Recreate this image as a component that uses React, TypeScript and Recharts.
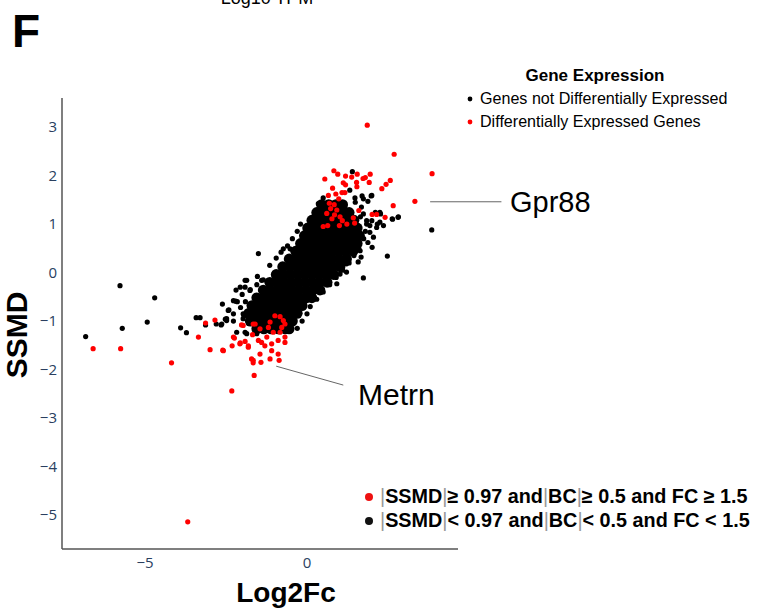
import { ReferenceLine, Scatter, ScatterChart, XAxis, YAxis } from "recharts";

// Log2Fc (x), SSMD (y)

// genes not differentially expressed, sparse / edge points
const notDeSparse: [number, number][] = [
    [-5.77, -0.27], [-4.70, -0.52], [-4.93, -1.02], [-5.70, -1.15], [-6.83, -1.32], [-3.90, -1.14], [-3.72, -1.24],
    [-3.42, -0.93], [-3.30, -0.93], [-3.13, -1.08], [-2.80, -1.06], [-2.61, -0.65], [-2.65, -1.08], [-2.52, -0.96],
    [-2.43, -0.78], [-2.27, -1.00], [-2.20, -0.59], [-2.06, -0.30], [-1.91, -0.16],
    [3.85, 0.88], [2.81, 1.14], [2.64, 1.10], [1.40, 2.08], [1.32, 1.70], [1.70, 1.58], [1.98, 1.58], [1.88, 1.47],
    [1.48, 1.54], [1.49, 1.45], [0.50, 1.54], [0.67, 1.44], [1.84, 1.07], [2.00, 1.07], [2.11, 1.24], [2.27, 1.21],
    [2.17, 1.00], [1.94, 0.97], [1.74, 1.21], [1.68, 1.35], [0.42, 1.29], [0.35, 1.42],
    [2.48, 0.34], [1.74, -0.11], [2.01, 0.52], [1.88, 0.62], [1.58, 0.22], [1.67, 0.32], [2.82, 1.15], [2.63, 1.11],
    [2.25, 1.04], [2.15, 0.93], [1.94, 0.83], [1.84, 1.00], [1.22, 0.01], [0.92, -0.23], [-1.50, 0.39], [-0.73, 0.49],
    [-0.52, 0.49], [2.0, 1.59], [1.74, 1.52], [2.25, 1.24], [2.36, 0.97], [2.05, 0.73], [1.64, 0.45], [1.22, 0.18], [1.02, -0.03],
    [-2.41, -0.77], [-2.27, -0.58], [-2.15, -0.60], [-2.19, -0.36], [-1.86, -0.16], [-1.91, -0.30], [-1.76, -0.37],
    [-1.53, -0.08], [-1.40, -0.16], [-2.48, -0.95], [-1.97, -0.95], [-1.91, -1.23],
    [-1.55, -1.26], [-1.35, -1.06], [-1.86, -1.26], [-2.17, -1.23], [-2.63, -1.06], [-2.27, -0.85], [-2.48, -0.99],
    [-1.97, -0.85], [-1.76, -0.78], [-1.50, -0.72], [-1.24, -0.78],
    [-1.35, -0.15], [-1.55, -0.25], [-1.75, -0.35], [-2.0, -0.45], [-1.9, -0.6], [-2.05, -0.72], [-1.95, -0.88],
    [-1.8, -1.05], [-1.15, 0.15], [-0.95, 0.3], [-0.8, 0.42], [-0.6, 0.55], [-0.45, 0.7], [-0.3, 0.85], [-0.2, 1.0],
    [0.0, -0.85], [0.1, -0.7], [0.3, -0.55], [0.5, -0.4], [0.7, -0.25], [0.9, -0.1], [1.1, 0.05], [1.3, 0.2],
    [1.45, 0.35], [1.6, 0.5], [1.75, 0.7], [1.8, 0.85], [-0.15, -1.0], [-0.3, -1.15], [1.55, 0.95], [1.65, 1.15],
];

// the dense core of the non-DE cloud
const notDeCore: [number, number][] = [
    [0.45, 1.40], [0.67, 1.40], [0.89, 1.40], [1.10, 1.40],
    [0.30, 1.24], [0.52, 1.24], [0.74, 1.24], [0.96, 1.24], [1.18, 1.24], [1.30, 1.24],
    [0.15, 1.08], [0.37, 1.08], [0.59, 1.08], [0.81, 1.08], [1.03, 1.08], [1.25, 1.08], [1.45, 1.08],
    [0.02, 0.92], [0.24, 0.92], [0.46, 0.92], [0.68, 0.92], [0.90, 0.92], [1.12, 0.92], [1.34, 0.92], [1.55, 0.92],
    [-0.08, 0.76], [0.14, 0.76], [0.36, 0.76], [0.58, 0.76], [0.80, 0.76], [1.02, 0.76], [1.24, 0.76], [1.46, 0.76], [1.62, 0.76],
    [-0.20, 0.60], [0.02, 0.60], [0.24, 0.60], [0.46, 0.60], [0.68, 0.60], [0.90, 0.60], [1.12, 0.60], [1.34, 0.60], [1.55, 0.60],
    [-0.35, 0.44], [-0.13, 0.44], [0.09, 0.44], [0.31, 0.44], [0.53, 0.44], [0.75, 0.44], [0.97, 0.44], [1.19, 0.44], [1.42, 0.44],
    [-0.55, 0.28], [-0.33, 0.28], [-0.11, 0.28], [0.11, 0.28], [0.33, 0.28], [0.55, 0.28], [0.77, 0.28], [0.99, 0.28], [1.22, 0.28],
    [-0.75, 0.12], [-0.53, 0.12], [-0.31, 0.12], [-0.09, 0.12], [0.13, 0.12], [0.35, 0.12], [0.57, 0.12], [0.79, 0.12], [1.02, 0.12],
    [-0.95, -0.04], [-0.73, -0.04], [-0.51, -0.04], [-0.29, -0.04], [-0.07, -0.04], [0.15, -0.04], [0.37, -0.04], [0.59, -0.04], [0.82, -0.04],
    [-1.15, -0.20], [-0.93, -0.20], [-0.71, -0.20], [-0.49, -0.20], [-0.27, -0.20], [-0.05, -0.20], [0.17, -0.20], [0.39, -0.20], [0.62, -0.20],
    [-1.35, -0.36], [-1.13, -0.36], [-0.91, -0.36], [-0.69, -0.36], [-0.47, -0.36], [-0.25, -0.36], [-0.03, -0.36], [0.19, -0.36], [0.40, -0.36],
    [-1.55, -0.52], [-1.33, -0.52], [-1.11, -0.52], [-0.89, -0.52], [-0.67, -0.52], [-0.45, -0.52], [-0.23, -0.52], [-0.01, -0.52], [0.15, -0.52],
    [-1.70, -0.68], [-1.48, -0.68], [-1.26, -0.68], [-1.04, -0.68], [-0.82, -0.68], [-0.60, -0.68], [-0.38, -0.68], [-0.15, -0.68],
    [-1.80, -0.84], [-1.58, -0.84], [-1.36, -0.84], [-1.14, -0.84], [-0.92, -0.84], [-0.70, -0.84], [-0.48, -0.84], [-0.30, -0.84],
    [-1.75, -1.00], [-1.53, -1.00], [-1.31, -1.00], [-1.09, -1.00], [-0.87, -1.00], [-0.65, -1.00], [-0.45, -1.00],
    [-1.55, -1.16], [-1.33, -1.16], [-1.11, -1.16], [-0.89, -1.16], [-0.67, -1.16], [-0.55, -1.16],
];

// differentially expressed genes
const deGenes: [number, number][] = [
    [-6.60, -1.57], [-5.75, -1.57], [-4.18, -1.86], [-3.35, -1.33], [-3.13, -1.04], [-2.84, -0.98], [-2.99, -1.59],
    [-2.60, -1.60], [-2.31, -1.51], [-2.24, -1.35], [-2.06, -1.45], [-2.02, -1.08], [-1.91, -1.42], [-1.81, -1.51],
    [-1.66, -1.86], [-1.63, -2.12], [-1.71, -1.78], [-1.60, -1.06], [-1.68, -1.28], [-2.32, -2.44], [-3.68, -5.14],
    [-0.83, -0.91], [-0.73, -0.99], [-0.68, -1.06], [-1.14, -1.02], [-1.19, -1.13], [-1.04, -1.23], [-0.83, -1.23],
    [-0.68, -1.33], [-0.68, -1.44], [-0.89, -1.40], [-1.09, -1.47], [-1.30, -1.51], [-1.40, -1.44], [-1.50, -1.40],
    [-1.97, -1.09], [-1.66, -1.06], [-1.45, -1.16], [-1.24, -1.33], [-1.09, -1.61], [-0.89, -1.68], [-0.86, -1.81],
    [-1.14, -1.78], [-1.42, -1.85], [-1.66, -1.81], [-1.45, -1.68], [-1.81, -1.54], [-2.07, -1.47], [-2.27, -1.33],
    [-2.58, -1.61], [-0.99, -0.89], [-0.78, -1.13],
    [1.86, 3.04], [2.69, 2.44], [3.86, 2.04], [3.33, 1.47], [2.66, 1.38], [2.41, 1.14], [2.31, 1.73], [2.44, 1.82],
    [2.57, 1.90], [1.95, 2.03], [1.92, 1.86], [1.80, 1.96], [1.73, 1.94], [1.55, 2.03], [1.38, 1.97], [1.19, 1.99],
    [0.95, 2.03], [0.83, 2.10], [0.55, 1.93], [1.12, 1.85], [1.19, 1.81], [1.53, 1.86], [1.54, 1.77], [0.79, 1.74],
    [1.08, 1.65], [1.17, 1.65], [0.89, 1.62], [0.66, 1.59], [0.98, 1.52], [0.69, 1.43], [0.84, 1.40], [0.73, 1.32],
    [0.92, 1.29], [0.61, 1.22], [0.85, 1.19], [1.02, 1.15], [0.77, 1.11], [1.09, 1.07], [0.64, 0.97], [1.00, 0.97],
    [1.23, 1.00], [1.47, 1.02], [1.43, 1.13], [1.60, 1.28], [2.01, 1.20], [2.15, 1.20], [0.50, 0.95],
];

const xTicks = [-5, 0];
const yTicks = [-5, -4, -3, -2, -1, 0, 1, 2, 3];

const toPts = (a: [number, number][]) => a.map(([x, y]) => ({ x, y }));

const fmt = (v: number) => (v < 0 ? `\u2212${Math.abs(v)}` : `${v}`);

const dot = (r: number, fill: string) => (p: any) => <circle cx={p.cx} cy={p.cy} r={r} fill={fill} />;

const sans = "'Liberation Sans', Arial, sans-serif";
const tickStyle = { fill: "#2a3f5f", fontSize: 15, fontFamily: "'Open Sans', sans-serif" };
const bar = <tspan fill="#999" fontWeight="normal">|</tspan>;

export default function App() {
    return (
        <div style={{ position: "absolute", left: 0, top: 0, width: 768, height: 612, background: "#fff" }}>
            <ScatterChart width={768} height={612} margin={{ top: 98, right: 310, bottom: 0, left: 0 }}>
                <XAxis type="number" dataKey="x" domain={[-7.56, 4.66]} allowDataOverflow ticks={xTicks}
                    tickFormatter={fmt} tickLine={false} tickSize={0} height={63} tickMargin={8}
                    axisLine={{ stroke: "#555", strokeWidth: 1.5 }} tick={tickStyle} />
                <YAxis type="number" dataKey="y" domain={[-5.7, 3.6]} allowDataOverflow ticks={yTicks}
                    tickFormatter={fmt} tickLine={false} tickSize={0} width={62} tickMargin={5}
                    axisLine={{ stroke: "#555", strokeWidth: 1.5 }} tick={tickStyle} />
                <ReferenceLine segment={[{ x: 3.8, y: 1.46 }, { x: 6.0, y: 1.46 }]} stroke="#666" ifOverflow="visible" />
                <ReferenceLine segment={[{ x: -0.95, y: -1.93 }, { x: 1.12, y: -2.32 }]} stroke="#666" ifOverflow="visible" />
                <Scatter data={toPts(notDeCore)} shape={dot(5.4, "#000")} isAnimationActive={false} />
                <Scatter data={toPts(notDeSparse)} shape={dot(2.6, "#000")} isAnimationActive={false} />
                <Scatter data={toPts(deGenes)} shape={dot(2.6, "#ff0000")} isAnimationActive={false} />
            </ScatterChart>
            <svg width={768} height={612} style={{ position: "absolute", left: 0, top: 0, pointerEvents: "none" }}>
                <text x={267} y={4} textAnchor="middle" fontSize={18} fontFamily={sans}>Log10 TPM</text>
                <text x={12} y={47} fontSize={46} fontWeight="bold" fontFamily={sans}>F</text>
                <text transform="translate(27,335) rotate(-90)" textAnchor="middle" fontSize={30} fontWeight="bold" fontFamily={sans}>SSMD</text>
                <text x={286} y={602} textAnchor="middle" fontSize={28} fontWeight="bold" fontFamily={sans}>Log2Fc</text>
                <text x={595} y={81} textAnchor="middle" fontSize={17} fontWeight="bold" fontFamily={sans}>Gene Expression</text>
                <circle cx={470} cy={99} r={2.4} fill="#000" />
                <text x={480} y={104} fontSize={16.1} fontFamily={sans}>Genes not Differentially Expressed</text>
                <circle cx={470} cy={122} r={2.4} fill="#ff0000" />
                <text x={480} y={127} fontSize={16.1} fontFamily={sans}>Differentially Expressed Genes</text>
                <text x={510} y={212} fontSize={29} fontFamily={sans}>Gpr88</text>
                <text x={358} y={405} fontSize={30} fontFamily={sans}>Metrn</text>
                <circle cx={369} cy={497} r={4} fill="#ee1111" />
                <text x={380} y={503} fontSize={19.8} fontWeight="bold" fontFamily={sans}>{bar}SSMD{bar}≥ 0.97 and{bar}BC{bar}≥ 0.5 and FC ≥ 1.5</text>
                <circle cx={369} cy={521} r={4} fill="#111" />
                <text x={380} y={527} fontSize={19.8} fontWeight="bold" fontFamily={sans}>{bar}SSMD{bar}&lt; 0.97 and{bar}BC{bar}&lt; 0.5 and FC &lt; 1.5</text>
            </svg>
        </div>
    );
}
